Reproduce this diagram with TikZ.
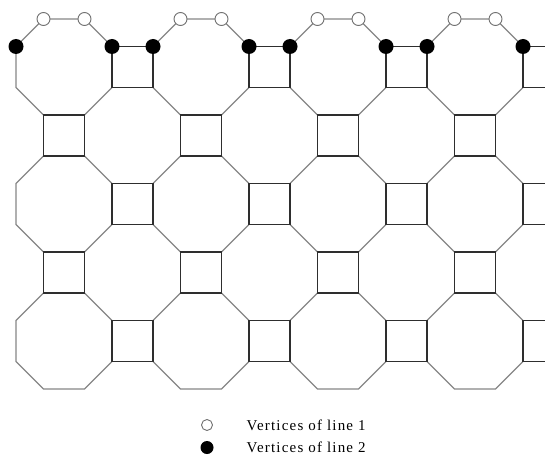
\documentclass[tikz,border=0pt]{standalone}
\usepackage{fontspec}
\newfontfamily\legendfont[LetterSpace=8]{Liberation Serif}
\definecolor{octgray}{HTML}{868686}
\definecolor{sqdark}{HTML}{2E2E2E}
\definecolor{dotgray}{HTML}{707070}
\begin{document}
\begin{tikzpicture}[x=1pt,y=-1pt,
  octedge/.style={draw=octgray, line width=1.1pt, line join=miter},
  sqedge/.style={draw=sqdark, line width=1.1pt},
  whitedot/.style={circle, draw=dotgray, fill=white, line width=0.9pt, minimum size=13pt, inner sep=0pt},
  blackdot/.style={circle, fill=black, minimum size=15pt, inner sep=0pt},
  legwhite/.style={circle, draw=dotgray, fill=white, line width=0.9pt, minimum size=11pt, inner sep=0pt},
  legblack/.style={circle, fill=black, minimum size=13pt, inner sep=0pt},
  legendtext/.style={font=\legendfont\fontsize{15}{18}\selectfont, anchor=base west, inner sep=0pt}]
\useasboundingbox (0,0) rectangle (545,457);
\fill[white] (0,0) rectangle (545,457);
\begin{scope}
\clip (0,0) rectangle (545,457);
% octagons
\foreach \i in {0,...,3} \foreach \j in {0,...,2} {
  \pgfmathsetmacro\X{16+137*\i}
  \pgfmathsetmacro\Y{19+137*\j}
  \draw[octedge] (\X+27.5,\Y) -- ++(41,0) -- ++(27.5,27.5) -- ++(0,41)
    -- ++(-27.5,27.5) -- ++(-41,0) -- ++(-27.5,-27.5) -- ++(0,-41) -- cycle;
}
% squares beside octagons
\foreach \i in {0,...,3} \foreach \j in {0,...,2} {
  \pgfmathsetmacro\X{112+137*\i}
  \pgfmathsetmacro\Y{46.5+137*\j}
  \draw[sqedge] (\X,\Y) rectangle ++(41,41);
}
% squares below octagons
\foreach \i in {0,...,3} \foreach \j in {0,1} {
  \pgfmathsetmacro\X{43.5+137*\i}
  \pgfmathsetmacro\Y{115+137*\j}
  \draw[sqedge] (\X,\Y) rectangle ++(41,41);
}
% vertices of line 1 and 2
\foreach \i in {0,...,3} {
  \pgfmathsetmacro\X{16+137*\i}
  \node[whitedot] (wa\i) at (\X+27.5,19) {};
  \node[whitedot] (wb\i) at (\X+68.5,19) {};
  \node[blackdot] (ba\i) at (\X,46.5) {};
  \node[blackdot] (bb\i) at (\X+96,46.5) {};
}
\end{scope}
% legend
\node[legwhite] (lw) at (207,425) {};
\node[legblack] (lb) at (207,447.5) {};
\node[legendtext] (t1) at (246.5,430) {Vertices of line 1};
\node[legendtext] (t2) at (246.5,452.5) {Vertices of line 2};
\end{tikzpicture}
\end{document}
